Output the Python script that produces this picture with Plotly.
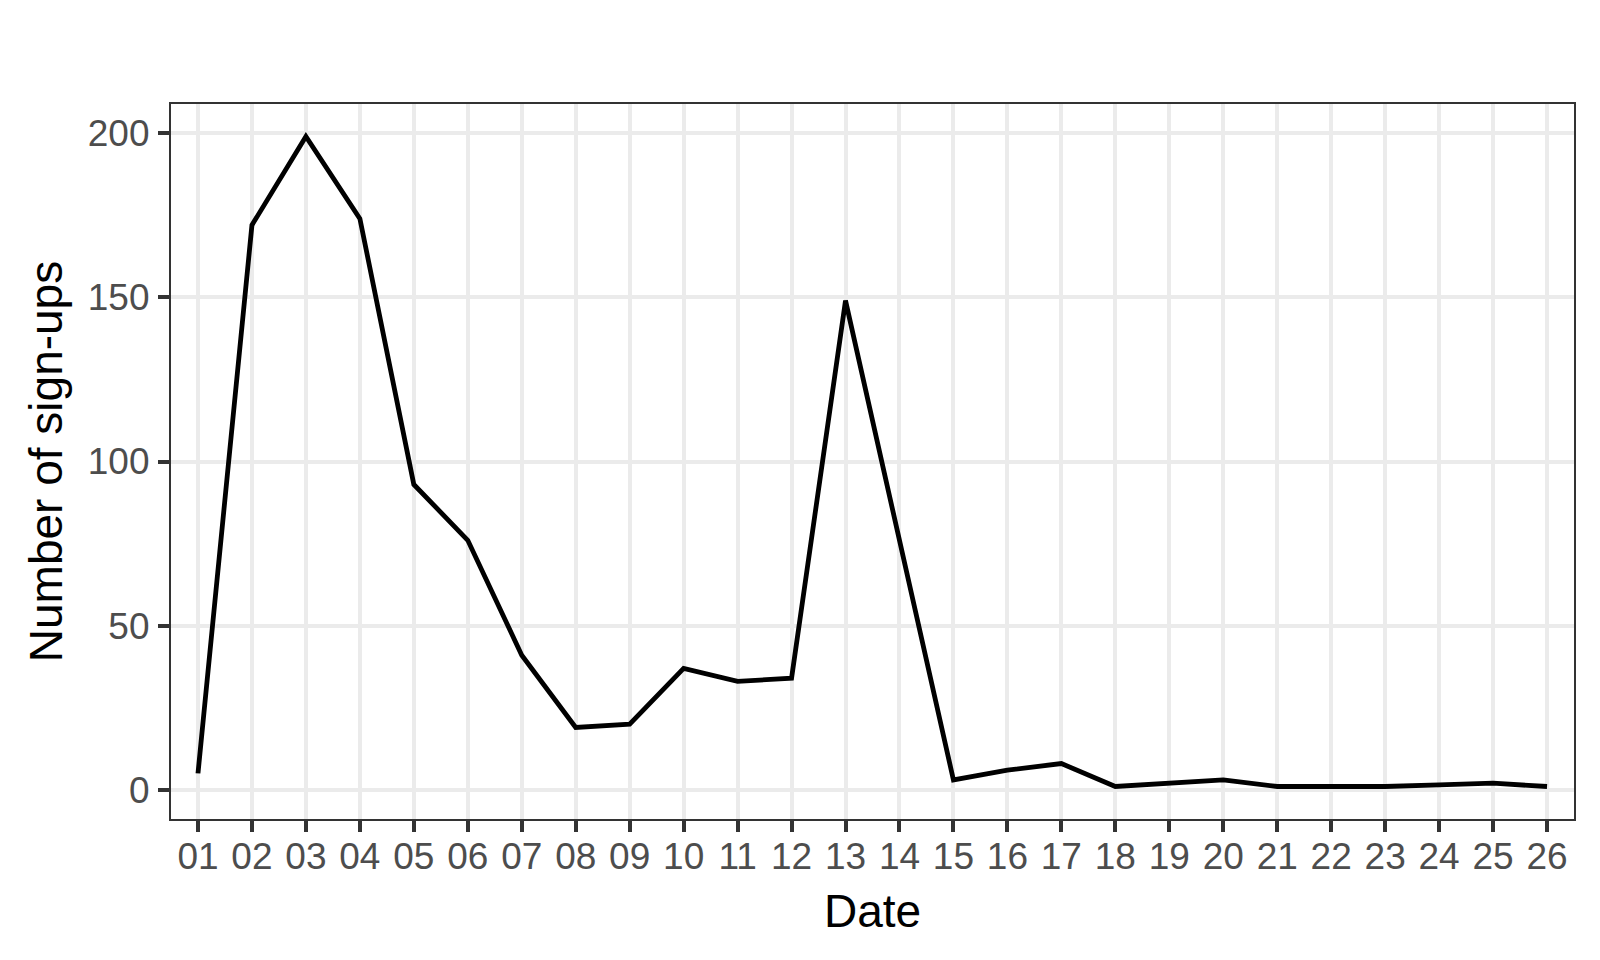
import plotly.graph_objects as go

dates = ["01", "02", "03", "04", "05", "06", "07", "08", "09", "10", "11", "12", "13",
         "14", "15", "16", "17", "18", "19", "20", "21", "22", "23", "24", "25", "26"]
signups = [5, 172, 199, 174, 93, 76, 41, 19, 20, 37, 33, 34, 149,
           76, 3, 6, 8, 1, 2, 3, 1, 1, 1, 1.5, 2, 1]
y_ticks = [0, 50, 100, 150, 200]

FONT = "Liberation Sans, Arial, sans-serif"

fig = go.Figure()
fig.add_trace(go.Scatter(
    x=dates, y=signups, mode="lines",
    line=dict(color="black", width=4.8),
    hoverinfo="x+y", showlegend=False,
))

# page body adds an 8px margin; size the figure so the page does not overflow
fig.update_layout(
    width=1584, height=944,
    margin=dict(l=163, r=18, t=96, b=133, autoexpand=False),
    paper_bgcolor="white", plot_bgcolor="white",
    font=dict(family=FONT, color="black"),
    xaxis=dict(
        type="category",
        range=[-0.5, 25.5],
        showgrid=True, gridcolor="#EBEBEB", gridwidth=4.2,
        zeroline=False,
        ticks="outside", ticklen=11, tickwidth=4, tickcolor="#333333",
        tickfont=dict(size=37, color="#4D4D4D", family=FONT),
        ticklabelstandoff=-8,
        showline=True, linecolor="#333333", linewidth=2.2, mirror=True,
        automargin=False,
        title=dict(text="Date", font=dict(size=46, color="black", family=FONT), standoff=19),
    ),
    yaxis=dict(
        range=[-8.9, 208.9],
        tickvals=y_ticks, ticktext=[str(v) for v in y_ticks],
        showgrid=True, gridcolor="#EBEBEB", gridwidth=4.2,
        zeroline=False,
        ticks="outside", ticklen=11, tickwidth=4, tickcolor="#333333",
        tickfont=dict(size=37, color="#4D4D4D", family=FONT),
        ticklabelstandoff=1,
        showline=True, linecolor="#333333", linewidth=2.2, mirror=True,
        automargin=False,
        title=dict(text="Number of sign-ups", font=dict(size=46, color="black", family=FONT), standoff=11),
    ),
)

fig.write_html("out.html")
